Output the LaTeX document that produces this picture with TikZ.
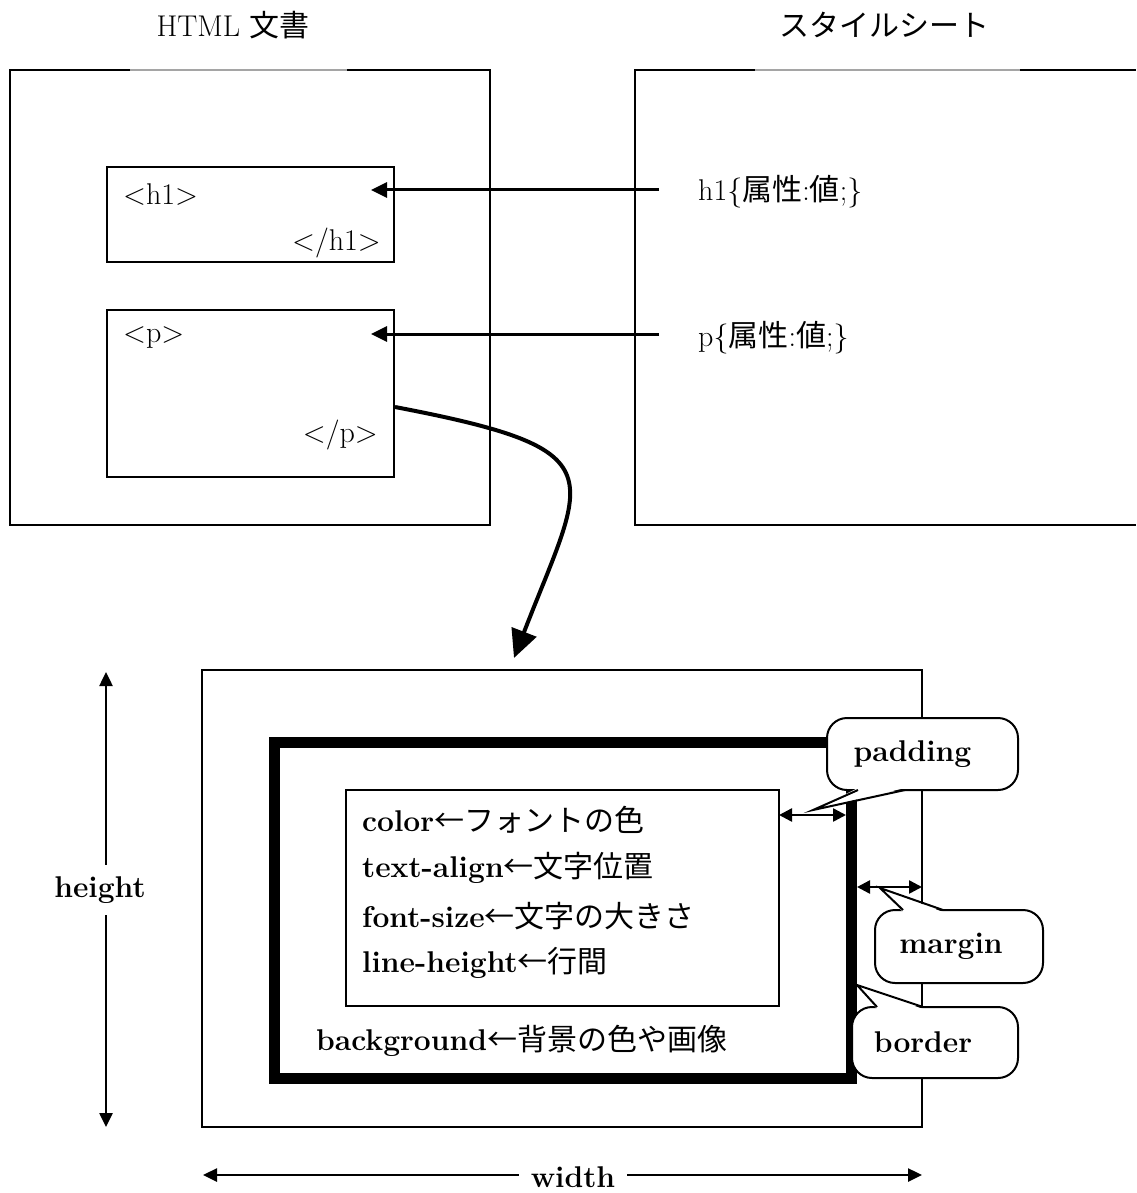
\documentclass[tikz,border=0pt]{standalone}
\usepackage{fontspec}
\newfontfamily\cjk{Noto Sans CJK JP}
\usetikzlibrary{arrows.meta}
\definecolor{gapgray}{RGB}{165,165,165}
\newcommand{\bigfont}{\fontsize{30}{36}\selectfont}
\tikzset{
  frameline/.style={line width=2pt},
  gapline/.style={line width=1.2pt, draw=gapgray},
  tagbox/.style={draw, line width=2pt, inner sep=0pt},
  txt/.style={inner sep=0pt},
  reflink/.style={line width=3pt, -{Triangle[length=16pt,width=15pt]}},
  flowlink/.style={line width=4pt, -{Triangle[length=28pt,width=26pt]}},
  dimarrow/.style={line width=2.5pt, {Triangle[length=14pt,width=13pt]}-{Triangle[length=14pt,width=13pt]}},
  gaparrow/.style={line width=2.5pt, {Triangle[length=13pt,width=13pt]}-{Triangle[length=13pt,width=13pt]}},
  dimlabel/.style={fill=white, inner sep=12pt, font=\bigfont\bfseries},
  callbox/.style={draw, fill=white, line width=2pt, rounded corners=20pt, inner sep=0pt, font=\bigfont\bfseries},
  pointer/.style={line width=2pt, line join=miter},
}
\begin{document}
\begin{tikzpicture}[x=1pt, y=-1pt, font=\bigfont]
\useasboundingbox (0,0) rectangle (1136,1193);

% titles
\node[txt] (htmltitle) at (233,25) {HTML {\cjk 文書}};
\node[txt] (csstitle) at (884,25) {{\cjk スタイルシート}};

% HTML document frame
\draw[frameline] (130,70) -- (10,70) -- (10,525) -- (490,525) -- (490,70) -- (347,70);
\draw[gapline] (130,70) -- (347,70);
% stylesheet frame
\draw[frameline] (755,70) -- (635,70) -- (635,525) -- (1136,525);
\draw[frameline] (1020,70) -- (1136,70);
\draw[gapline] (755,70) -- (1020,70);

% element boxes
\node[tagbox, minimum width=287pt, minimum height=95pt] (h1box) at (250.5,214.5) {};
\node[tagbox, minimum width=287pt, minimum height=167pt] (pbox) at (250.5,393.5) {};
\node[txt, anchor=west] (h1open) at (123,195) {<h1>};
\node[txt, anchor=east] (h1close) at (381,243) {</h1>};
\node[txt, anchor=west] (popen) at (123,338) {<p>};
\node[txt, anchor=east] (pclose) at (378,435) {</p>};

% stylesheet rules
\node[txt, anchor=west] (h1rule) at (698,192) {h1\{{\cjk 属性}:{\cjk 値};\}};
\node[txt, anchor=west] (prule) at (698,338) {p\{{\cjk 属性}:{\cjk 値};\}};

\coordinate (h1from) at (659,190);
\coordinate (h1to) at (371,190);
\coordinate (pfrom) at (659,334);
\coordinate (pto) at (371,334);
\draw[reflink] (h1from) -- (h1to);
\draw[reflink] (pfrom) -- (pto);

% box model
\node[tagbox, minimum width=720pt, minimum height=457pt] (marginbox) at (562,898.5) {};
\node[draw, line width=11pt, inner sep=0pt, minimum width=576.5pt, minimum height=336pt] (borderbox) at (562.75,910) {};
\node[tagbox, minimum width=433pt, minimum height=216pt] (contentbox) at (562.5,898) {};

\coordinate (curvestart) at (395,407);
\coordinate (curveend) at (514,658);
\draw[flowlink] (curvestart) .. controls (620,450) and (586,472) .. (curveend);

\node[txt, anchor=west] (l1) at (362,820) {{\bfseries color}{\cjk ←フォントの色}};
\node[txt, anchor=west] (l2) at (362,868) {{\bfseries text-align}{\cjk ←文字位置}};
\node[txt, anchor=west] (l3) at (362,916) {{\bfseries font-size}{\cjk ←文字の大きさ}};
\node[txt, anchor=west] (l4) at (362,963) {{\bfseries line-height}{\cjk ←行間}};
\node[txt, anchor=west] (l5) at (316,1041) {{\bfseries background}{\cjk ←背景の色や画像}};

% padding / margin arrows
\coordinate (padL) at (779,815);
\coordinate (padR) at (846,815);
\coordinate (marL) at (857,887);
\coordinate (marR) at (922,887);
\draw[gaparrow] (padL) -- (padR);
\draw[gaparrow] (marL) -- (marR);

% height / width dimensions
\coordinate (htop) at (106,672);
\coordinate (hbot) at (106,1127);
\coordinate (wleft) at (203,1175);
\coordinate (wright) at (922,1175);
\draw[dimarrow] (htop) -- (hbot);
\draw[dimarrow] (wleft) -- (wright);
\node[dimlabel] (hlabel) at (100,890) {height};
\node[dimlabel] (wlabel) at (573,1177) {width};

% callouts
\node[callbox, minimum width=191pt, minimum height=72pt] (padcall) at (922.5,754) {\hspace*{-20pt}padding};
\fill[white] (858,788) -- (813,810) -- (905,788) -- cycle;
\draw[pointer] (858,790) -- (813,810) -- (905,790);

\node[callbox, minimum width=168pt, minimum height=73pt] (marcall) at (959,946.5) {\hspace*{-16pt}margin};
\fill[white] (903,912) -- (880,888) -- (943,912) -- cycle;
\draw[pointer] (903,910) -- (880,888) -- (943,910);

\node[callbox, minimum width=166pt, minimum height=71pt] (bordcall) at (935,1042.5) {\hspace*{-24pt}border};
\fill[white] (877,1009) -- (857,985) -- (923,1009) -- cycle;
\draw[pointer] (877,1007) -- (857,985) -- (923,1007);
\end{tikzpicture}
\end{document}
